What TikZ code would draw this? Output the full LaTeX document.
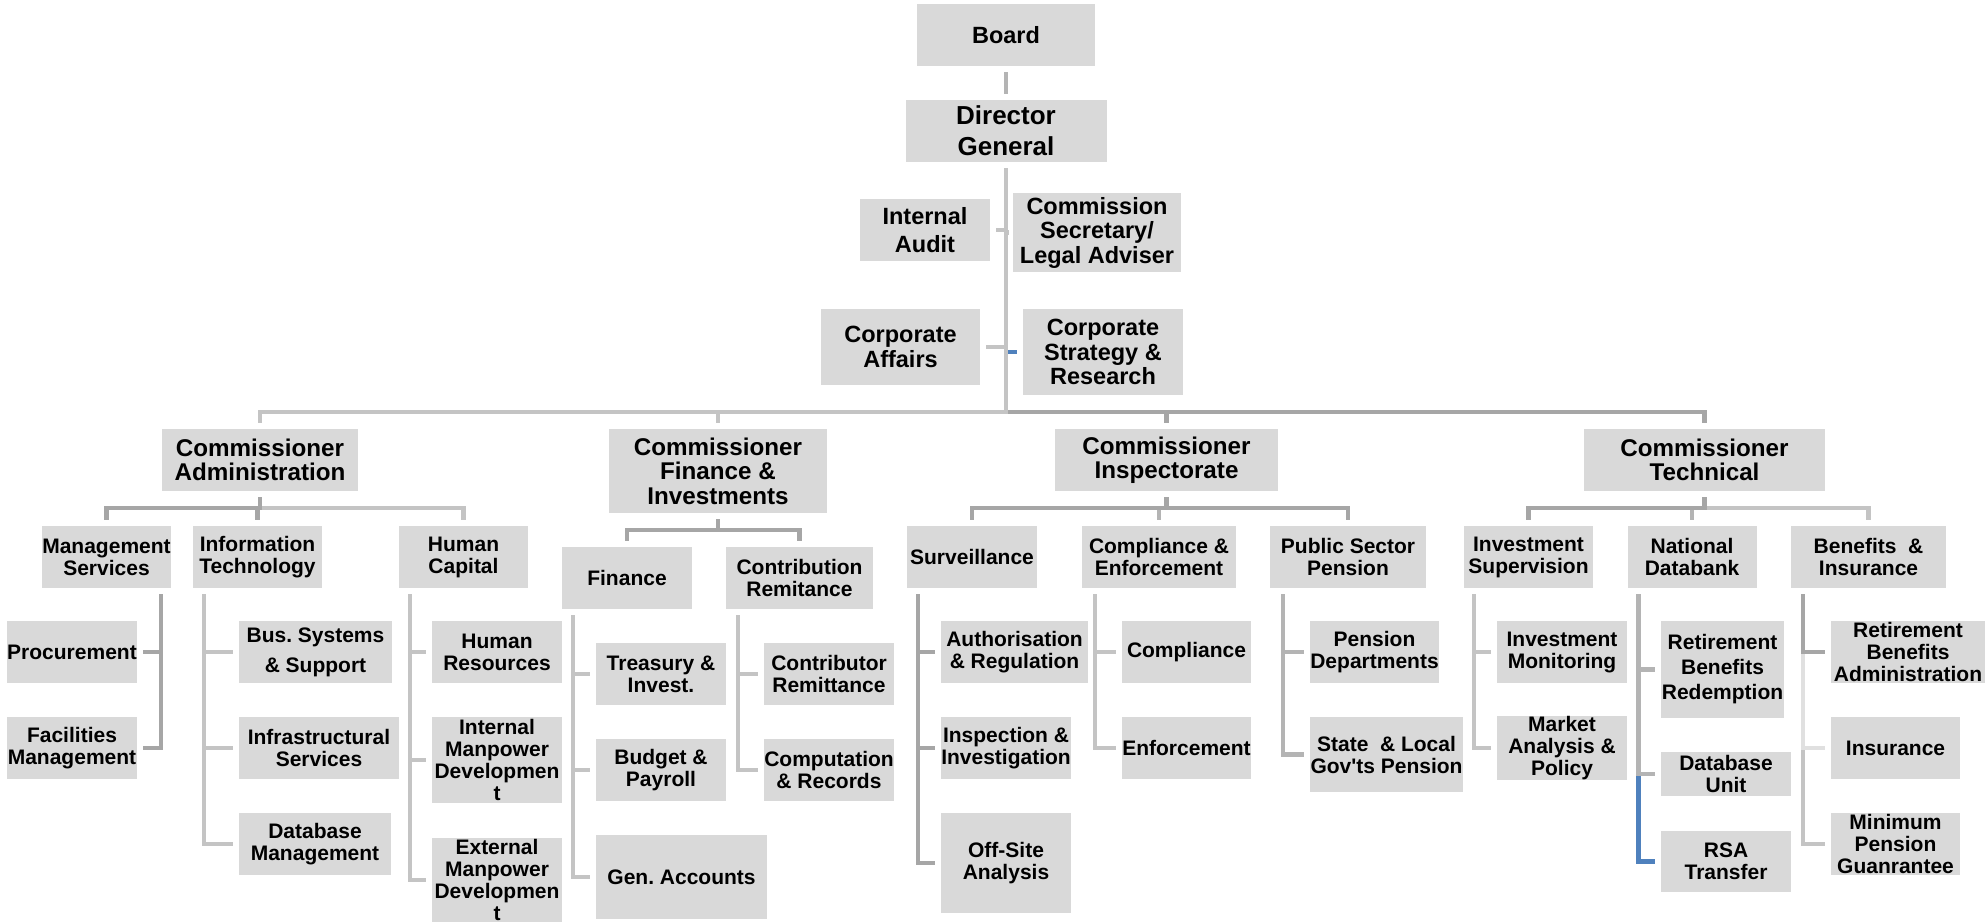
\documentclass[tikz,border=0pt]{standalone}
\usepackage{fontspec}
\setmainfont{Liberation Sans}
\definecolor{boxgray}{RGB}{217,217,217}
\definecolor{linklight}{RGB}{196,196,196}
\definecolor{linkmid}{RGB}{180,180,180}
\definecolor{linkdark}{RGB}{166,166,166}
\definecolor{linkpale}{RGB}{224,224,224}
\definecolor{linkblue}{RGB}{79,129,189}
\newcommand\unitfont{\fontsize{21}{22}\selectfont\bfseries}
\newcommand\stafffont{\fontsize{23.5}{24.5}\selectfont\bfseries}
\newcommand\commfont{\fontsize{24.2}{24.5}\selectfont\bfseries}
\newcommand\topfont{\fontsize{26}{31}\selectfont\bfseries}
\tikzstyle{unitBox} = [
 rectangle,
 fill=boxgray,
 inner sep=0pt,
 align=center,
 font=\unitfont
]
\tikzstyle{staffBox} = [
 unitBox,
 font=\stafffont
]
\tikzstyle{commBox} = [
 unitBox,
 font=\commfont
]
\tikzstyle{link} = [
 line width=4.5pt,
 shorten <=6pt,
 shorten >=6pt
]
\tikzset{dims/.style 2 args={minimum width=#1pt, minimum height=#2pt}}

\begin{document}
\begin{tikzpicture}[x=1pt, y=-1pt]
  \useasboundingbox (0,0) rectangle (1986,922);

  % top of the chart
  \node [staffBox, dims={178}{62}] (board) at (1006,35) {Board};
  \node [staffBox, font=\topfont, dims={201}{62}] (dg) at (1006,131) {Director\\General};
  \node [staffBox, dims={130}{62}] (audit) at (925,230) {Internal\\[3pt]Audit};
  \node [staffBox, dims={168}{79}] (secretary) at (1097,232.5) {Commission\\Secretary/\\Legal Adviser};
  \node [staffBox, dims={159}{76}] (affairs) at (900.5,347) {Corporate\\Affairs};
  \node [staffBox, dims={160}{86}] (strategy) at (1103,352) {Corporate\\Strategy \&\\Research};

  % commissioners
  \node [commBox, dims={196}{62}] (admin) at (260,460) {Commissioner\\Administration};
  \node [commBox, dims={218}{84}] (finInv) at (718,471) {Commissioner\\Finance \&\\Investments};
  \node [commBox, dims={223}{62}] (insp) at (1166.5,460) {Commissioner\\Inspectorate};
  \node [commBox, dims={241}{62}] (tech) at (1704.5,460) {Commissioner\\Technical};

  % departments
  \node [unitBox, dims={129}{62}] (mgmt) at (106.5,557) {Management\\Services};
  \node [unitBox, dims={129}{62}] (infoTech) at (257.5,557) {Information\\Technology};
  \node [unitBox, dims={129}{62}] (humanCap) at (463.5,557) {Human\\Capital};
  \node [unitBox, dims={130}{62}] (finance) at (627,578) {Finance};
  \node [unitBox, dims={147}{62}] (contrib) at (799.5,578) {Contribution\\Remitance};
  \node [unitBox, dims={130}{62}] (surveil) at (972,557) {Surveillance};
  \node [unitBox, dims={154}{62}] (complEnf) at (1159,557) {Compliance \&\\Enforcement};
  \node [unitBox, dims={156}{62}] (pubSector) at (1348,557) {Public Sector\\Pension};
  \node [unitBox, dims={129}{62}] (invSup) at (1528.5,557) {Investment\\Supervision};
  \node [unitBox, dims={129}{62}] (natData) at (1692,557) {National\\Databank};
  \node [unitBox, dims={155}{62}] (benIns) at (1868.5,557) {Benefits \ \&\\Insurance};

  % units
  \node [unitBox, dims={130}{62}] (procure) at (72,652) {Procurement};
  \node [unitBox, dims={130}{62}] (facil) at (72,748) {Facilities\\Management};
  \node [unitBox, dims={153}{62}] (busSys) at (315.5,652) {Bus.\ Systems\\[8pt]\& Support};
  \node [unitBox, dims={160}{62}] (infra) at (319,748) {Infrastructural\\Services};
  \node [unitBox, dims={152}{62}] (dbMgmt) at (315,844) {Database\\Management};
  \node [unitBox, dims={130}{62}] (humanRes) at (497,652) {Human\\Resources};
  \node [unitBox, dims={130}{86}] (intMan) at (497,760) {Internal\\Manpower\\Developmen\\t};
  \node [unitBox, dims={130}{84}] (extMan) at (497,880) {External\\Manpower\\Developmen\\t};
  \node [unitBox, dims={130}{62}] (treasury) at (661,674) {Treasury \&\\Invest.};
  \node [unitBox, dims={130}{62}] (budget) at (661,770) {Budget \&\\Payroll};
  \node [unitBox, dims={171}{84}] (genAcc) at (681.5,877) {Gen.\ Accounts};
  \node [unitBox, dims={130}{62}] (contribRem) at (829,674) {Contributor\\Remittance};
  \node [unitBox, dims={130}{62}] (computation) at (829,770) {Computation\\\& Records};
  \node [unitBox, dims={147}{62}] (authReg) at (1014.5,652) {Authorisation\\\& Regulation};
  \node [unitBox, dims={130}{62}] (inspInv) at (1006,748) {Inspection \&\\Investigation};
  \node [unitBox, dims={130}{100}] (offSite) at (1006,863) {Off-Site\\Analysis};
  \node [unitBox, dims={129}{62}] (compliance) at (1186.5,652) {Compliance};
  \node [unitBox, dims={129}{62}] (enforce) at (1186.5,748) {Enforcement};
  \node [unitBox, dims={129}{62}] (pensionDept) at (1374.5,652) {Pension\\Departments};
  \node [unitBox, dims={153}{75}] (stateLocal) at (1386.5,754.5) {State \ \& Local\\Gov\textquotesingle ts Pension};
  \node [unitBox, dims={130}{62}] (invMon) at (1562,652) {Investment\\Monitoring};
  \node [unitBox, dims={130}{62}] (market) at (1562,748) {Market\\Analysis \&\\Policy};
  \node [unitBox, font=\fontsize{21}{25}\selectfont\bfseries, dims={123}{97}] (rbRedemp) at (1722.5,669.5) {Retirement\\Benefits\\Redemption};
  \node [unitBox, dims={130}{44}] (dbUnit) at (1726,774) {Database\\Unit};
  \node [unitBox, dims={130}{61}] (rsa) at (1726,861.5) {RSA\\Transfer};
  \node [unitBox, dims={154}{62}] (rbAdmin) at (1908,652) {Retirement\\Benefits\\Administration};
  \node [unitBox, dims={129}{62}] (insurance) at (1895.5,748) {Insurance};
  \node [unitBox, dims={129}{62}] (minPension) at (1895.5,844) {Minimum\\Pension\\Guanrantee};

  % links from the board and director general
  \draw [link, draw=linkmid] (board.south) -- (dg.north);
  \draw [link, draw=linkblue] (dg.south) |- (strategy.west);
  \draw [link, draw=linklight, shorten >=4pt] (dg.south) |- (secretary.west);
  \draw [link, draw=linklight] (dg.south) |- (audit.east);
  \draw [link, draw=linklight] (dg.south) |- (affairs.east);
  \draw [link, draw=linkdark] (dg.south) |- ([yshift=17pt]tech.north) -- (tech.north);
  \draw [link, draw=linkdark] (dg.south) |- ([yshift=17pt]insp.north) -- (insp.north);
  \draw [link, draw=linklight] (dg.south) |- ([yshift=17pt]finInv.north) -- (finInv.north);
  \draw [link, draw=linklight] (dg.south) |- ([yshift=17pt]admin.north) -- (admin.north);

  % commissioners to departments
  \draw [link, draw=linklight] (admin.south) -- ++(0,17) -| (humanCap.north);
  \draw [link, draw=linkdark] (admin.south) -- ++(0,17) -| (infoTech.north);
  \draw [link, draw=linkdark] (admin.south) -- ++(0,17) -| (mgmt.north);
  \draw [link, draw=linkdark] (finInv.south) -- ++(0,17) -| (contrib.north);
  \draw [link, draw=linkdark] (finInv.south) -- ++(0,17) -| (finance.north);
  \draw [link, draw=linkdark] (insp.south) -- ++(0,17) -| (pubSector.north);
  \draw [link, draw=linkmid] (insp.south) -- ++(0,17) -| (complEnf.north);
  \draw [link, draw=linkdark] (insp.south) -- ++(0,17) -| (surveil.north);
  \draw [link, draw=linklight] (tech.south) -- ++(0,17) -| (benIns.north);
  \draw [link, draw=linkmid] (tech.south) -- ++(0,17) -| (natData.north);
  \draw [link, draw=linkdark] (tech.south) -- ++(0,17) -| (invSup.north);

  % departments to units
  \foreach \kid in {facil, procure}
    \draw [link, draw=linkdark] ([xshift=-10pt]mgmt.south east) |- (\kid.east);
  \foreach \kid in {dbMgmt, infra, busSys}
    \draw [link, draw=linklight] ([xshift=11pt]infoTech.south west) |- (\kid.west);
  \foreach \kid in {extMan, intMan, humanRes}
    \draw [link, draw=linklight] ([xshift=11pt]humanCap.south west) |- (\kid.west);
  \foreach \kid in {genAcc, budget, treasury}
    \draw [link, draw=linklight] ([xshift=11pt]finance.south west) |- (\kid.west);
  \foreach \kid in {computation, contribRem}
    \draw [link, draw=linklight] ([xshift=12pt]contrib.south west) |- (\kid.west);
  \foreach \kid in {offSite, inspInv, authReg}
    \draw [link, draw=linkdark] ([xshift=11pt]surveil.south west) |- (\kid.west);
  \foreach \kid in {enforce, compliance}
    \draw [link, draw=linklight] ([xshift=13pt]complEnf.south west) |- (\kid.west);
  \foreach \kid in {stateLocal, pensionDept}
    \draw [link, draw=linkmid] ([xshift=13pt]pubSector.south west) |- (\kid.west);
  \foreach \kid in {market, invMon}
    \draw [link, draw=linklight] ([xshift=10pt]invSup.south west) |- (\kid.west);
  \draw [link, draw=linkblue] ([xshift=11pt]natData.south west) |- (rsa.west);
  \foreach \kid in {dbUnit, rbRedemp}
    \draw [link, draw=linkmid] ([xshift=11pt]natData.south west) |- (\kid.west);
  \draw [link, draw=linklight] ([xshift=12pt]benIns.south west) |- (minPension.west);
  \draw [link, draw=linkpale] ([xshift=12pt]benIns.south west) |- (insurance.west);
  \draw [link, draw=linkdark] ([xshift=12pt]benIns.south west) |- (rbAdmin.west);
\end{tikzpicture}
\end{document}
